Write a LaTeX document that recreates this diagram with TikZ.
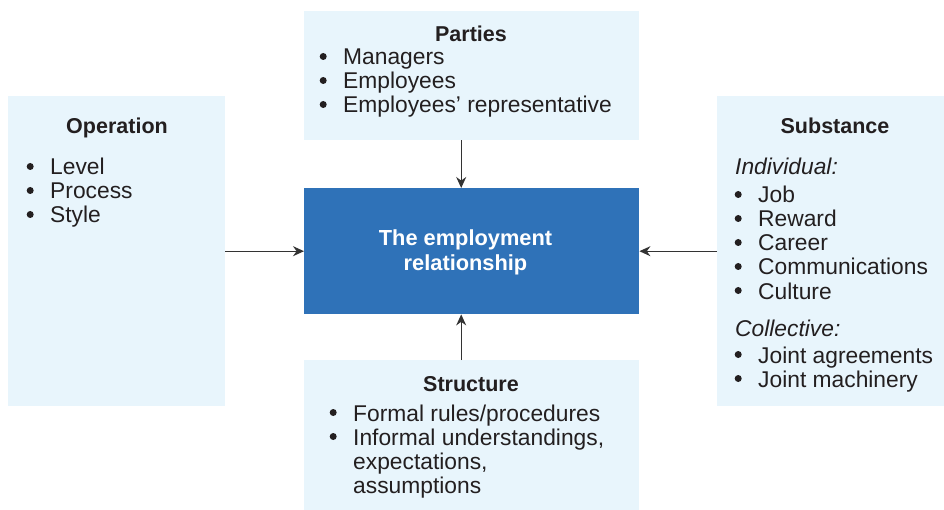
\documentclass[tikz,border=0pt]{standalone}
\usepackage{fontspec}
\setmainfont{Liberation Sans}
\usetikzlibrary{arrows.meta}
\definecolor{ink}{HTML}{231F20}
\definecolor{pale}{HTML}{E8F5FC}
\definecolor{mainblue}{HTML}{2F72B8}
\definecolor{arrowc}{HTML}{333333}
\tikzset{
  box/.style={fill=pale, draw=none, inner sep=0, anchor=north west},
  ctrbox/.style={fill=mainblue, draw=none, inner sep=0, anchor=north west},
  txt/.style={font=\fontsize{22.8}{24}\selectfont, inner sep=0, anchor=base west, text=ink},
  ttl/.style={font=\bfseries\fontsize{21.5}{24}\selectfont, inner sep=0, anchor=base, text=ink},
  itl/.style={font=\itshape\fontsize{22.8}{24}\selectfont, inner sep=0, anchor=base west, text=ink},
  arr/.style={draw=arrowc, line width=1.2pt, -{Stealth[length=11pt,width=10pt]}},
}
\newcommand{\bul}{\llap{\tikz[baseline=0pt]\fill[ink] (0,8.5pt) circle (3.5pt);\hspace{16.5pt}}}
\begin{document}
\begin{tikzpicture}[x=1pt,y=-1pt]
\useasboundingbox (0,0) rectangle (944,510);
% boxes
\node[box, minimum width=335pt, minimum height=129pt] (par) at (304,11) {};
\node[box, minimum width=217pt, minimum height=310pt] (op) at (8,96) {};
\node[box, minimum width=227pt, minimum height=310pt] (sub) at (717,96) {};
\node[box, minimum width=335pt, minimum height=150pt] (str) at (304,360) {};
\node[ctrbox, minimum width=335pt, minimum height=126pt] (ctr) at (304,188) {};
% centre text
\node[font=\bfseries\fontsize{21.8}{25.5}\selectfont, text=white, align=center, inner sep=0, anchor=base] (ctrt) at (465.5,271) {The employment\\relationship};
% Parties
\node[ttl] (part) at (471,42) {Parties};
\node[txt] (p1) at (343,65) {\bul Managers};
\node[txt] (p2) at (343,89) {\bul Employees};
\node[txt] (p3) at (343,113) {\bul Employees’ representative};
% Operation
\node[ttl] (opt) at (117,134) {Operation};
\node[txt] (o1) at (50,175) {\bul Level};
\node[txt] (o2) at (50,199) {\bul Process};
\node[txt] (o3) at (50,223) {\bul Style};
% Substance
\node[ttl] (subt) at (835,134) {Substance};
\node[itl] (ind) at (735,175) {Individual:};
\node[txt] (s1) at (758,203) {\bul Job};
\node[txt] (s2) at (758,227) {\bul Reward};
\node[txt] (s3) at (758,251) {\bul Career};
\node[txt] (s4) at (758,275) {\bul Communications};
\node[txt] (s5) at (758,299) {\bul Culture};
\node[itl] (col) at (735,336.5) {Collective:};
\node[txt] (s6) at (758,363) {\bul Joint agreements};
\node[txt] (s7) at (758,387) {\bul Joint machinery};
% Structure
\node[ttl] (strt) at (471,391) {Structure};
\node[txt] (t1) at (353,421) {\bul Formal rules/procedures};
\node[txt] (t2) at (353,445) {\bul Informal understandings,};
\node[txt] (t3) at (353,469) {expectations,};
\node[txt] (t4) at (353,493.5) {assumptions};
% arrows
\draw[arr] ([xshift=-10.5pt]par.south) -- ([xshift=-10.5pt]ctr.north);
\draw[arr] ([xshift=-10.5pt]str.north) -- ([xshift=-10.5pt]ctr.south);
\draw[arr] (op.east |- ctr.west) -- (ctr.west);
\draw[arr] (sub.west |- ctr.east) -- (ctr.east);
\end{tikzpicture}
\end{document}
